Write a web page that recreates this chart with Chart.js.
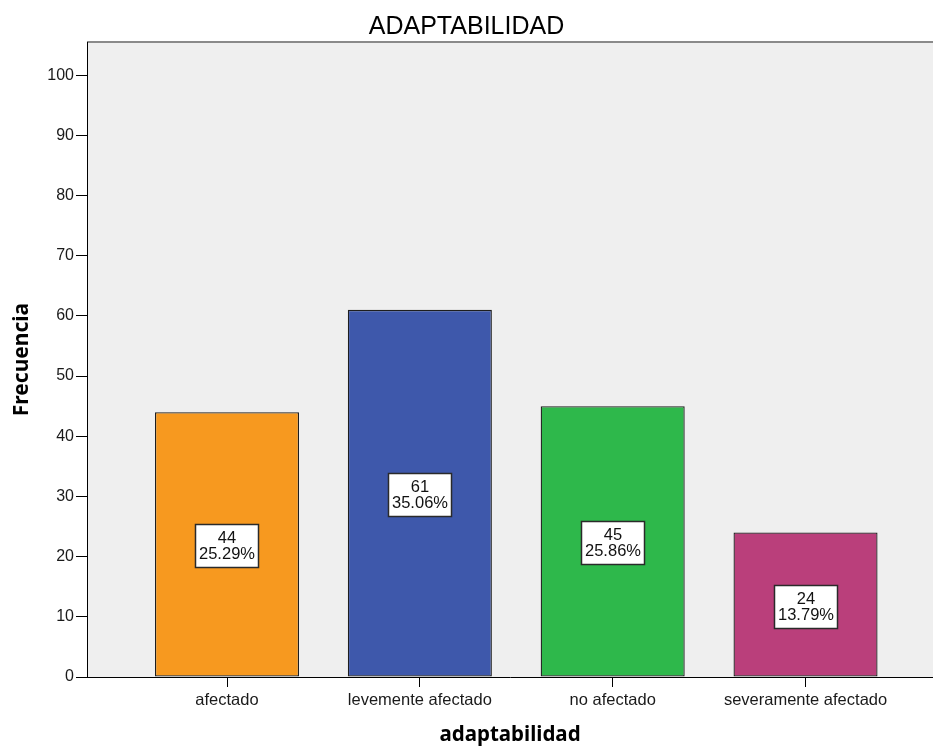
<!DOCTYPE html>
<html>
<head>
<meta charset="utf-8">
<title>ADAPTABILIDAD</title>
<script src="https://cdn.jsdelivr.net/npm/chart.js@4.4.1/dist/chart.umd.min.js"></script>
<style>
  html, body { margin: 0; padding: 0; background: #ffffff; }
  #wrap { width: 933px; height: 747px; position: relative; }
</style>
</head>
<body>
<div id="wrap"><canvas id="chart_adaptabilidad"></canvas></div>
<script>
// values
var categories = ['afectado', 'levemente afectado', 'no afectado', 'severamente afectado'];
var frecuencias = [44, 61, 45, 24];
var porcentajes = ['25.29%', '35.06%', '25.86%', '13.79%'];
var barColors = ['#F7991F', '#3E58AB', '#2EB84B', '#BA3F7B'];
var yTicks = [0, 10, 20, 30, 40, 50, 60, 70, 80, 90, 100];

var FONT = "'Liberation Sans', Arial, sans-serif";
var BOLD_FONT = "'Noto Sans', 'Liberation Sans', sans-serif";

var chart_adaptabilidad = new Chart(document.getElementById('chart_adaptabilidad'), {
    type: 'bar',
    data: {
        datasets: [
            {
                label: 'adaptabilidad',
                data: frecuencias.map(function (v, i) { return { x: i, y: v }; }),
                backgroundColor: barColors,
                borderColor: '#1e1e1e',
                borderWidth: 1.3,
                borderSkipped: false,
                categoryPercentage: 1,
                barPercentage: 0.747
            }
        ]
    },
    options: {
        animation: false,
        responsive: true,
        maintainAspectRatio: false,
        layout: { padding: 0 },
        plugins: {
            legend: { display: false },
            tooltip: { enabled: false },
            title: {
                display: true,
                text: 'ADAPTABILIDAD',
                color: '#000000',
                font: { family: FONT, size: 25, weight: 'normal', lineHeight: 1.2 },
                padding: { top: 12, bottom: 0 }
            }
        },
        scales: {
            x: {
                type: 'linear',
                min: -0.726,
                max: 3.661,
                offset: false,
                z: 1,
                afterBuildTicks: function (scale) {
                    scale.ticks = categories.map(function (c, i) { return { value: i }; });
                },
                afterFit: function (scale) { scale.height = 70; },
                ticks: {
                    autoSkip: false,
                    maxRotation: 0,
                    padding: 4,
                    color: '#1a1a1a',
                    font: { family: FONT, size: 16.5 },
                    callback: function (v) { return categories[v]; }
                },
                grid: {
                    display: true,
                    offset: false,
                    drawOnChartArea: false,
                    drawTicks: true,
                    tickLength: 10,
                    color: '#000000'
                },
                border: { display: true, color: '#000000', width: 1 },
                title: {
                    display: true,
                    text: 'adaptabilidad',
                    color: '#000000',
                    font: { family: BOLD_FONT, size: 20.5, weight: 'bold', lineHeight: 1.2 },
                    padding: { top: 0, bottom: 0 }
                }
            },
            y: {
                type: 'linear',
                min: 0,
                max: 105.5,
                z: 1,
                afterBuildTicks: function (scale) {
                    scale.ticks = yTicks.map(function (v) { return { value: v }; });
                },
                afterFit: function (scale) { scale.width = 87; },
                ticks: {
                    padding: 2,
                    color: '#1a1a1a',
                    font: { family: FONT, size: 16 }
                },
                grid: {
                    display: true,
                    drawOnChartArea: false,
                    drawTicks: true,
                    tickLength: 11,
                    color: '#000000'
                },
                border: { display: true, color: '#000000', width: 1 },
                title: {
                    display: true,
                    text: 'Frecuencia',
                    color: '#000000',
                    font: { family: BOLD_FONT, size: 21, weight: 'bold', lineHeight: 1.2 },
                    padding: { top: 9, bottom: 0 }
                }
            }
        }
    },
    plugins: [{
        id: 'plotBackground',
        beforeDraw: function (chart) {
            var ctx = chart.ctx;
            var a = chart.chartArea;
            ctx.save();
            ctx.fillStyle = '#ffffff';
            ctx.fillRect(0, 0, chart.width, chart.height);
            ctx.fillStyle = '#EFEFEF';
            ctx.fillRect(a.left, a.top, a.right - a.left, a.bottom - a.top);
            ctx.fillStyle = '#8a8a8a';
            ctx.fillRect(a.left, a.top - 1, a.right - a.left, 2);
            ctx.restore();
        }
    }, {
        id: 'countLabels',
        afterDatasetsDraw: function (chart) {
            var ctx = chart.ctx;
            var meta = chart.getDatasetMeta(0);
            ctx.save();
            meta.data.forEach(function (bar, i) {
                var p = bar.getProps(['x', 'y', 'base'], true);
                var cx = Math.round(p.x);
                var cy = Math.round((p.y + p.base) / 2) + 2;
                var w = 64, h = 44;
                ctx.fillStyle = '#ffffff';
                ctx.fillRect(cx - w / 2, cy - h / 2, w, h);
                ctx.strokeStyle = '#2a2a2a';
                ctx.lineWidth = 1.5;
                ctx.strokeRect(cx - w / 2 + 0.5, cy - h / 2 + 0.5, w - 1, h - 1);
                ctx.fillStyle = '#111111';
                ctx.font = '16.5px ' + FONT;
                ctx.textAlign = 'center';
                ctx.textBaseline = 'middle';
                ctx.fillText(String(frecuencias[i]), cx, cy - 8);
                ctx.fillText(porcentajes[i], cx, cy + 8);
            });
            ctx.restore();
        }
    }]
});
</script>
</body>
</html>
